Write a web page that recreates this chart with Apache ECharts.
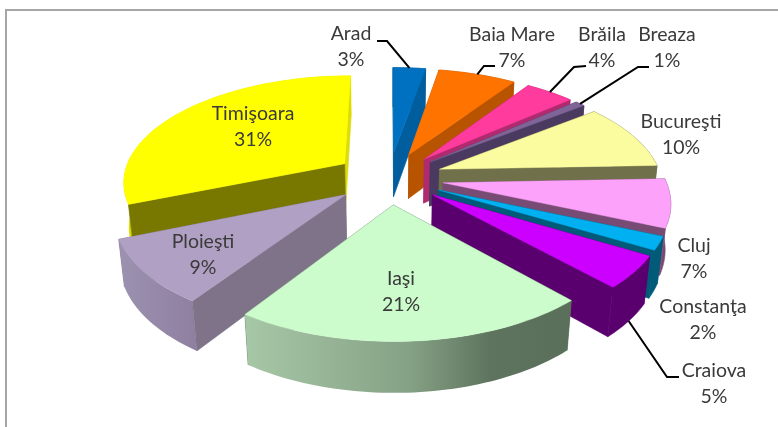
<!DOCTYPE html>
<html><head><meta charset="utf-8">
<style>html,body{margin:0;padding:0;background:#fff}#c{width:778px;height:427px}</style>
<script src="https://cdn.jsdelivr.net/npm/echarts@6/dist/echarts.min.js"></script>
</head><body><div id="c"></div>
<script>
// ---- data ----
const cities = ['Arad','Baia Mare','Brăila','Breaza','Bucureşti','Cluj','Constanţa','Craiova','Iaşi','Ploieşti','Timişoara'];
const shares = [2.8,6.7,4.2,0.85,9.85,7.1,1.95,4.7,21.3,9.4,31.15];

// ---- styles ----
const topColors  = ['#0070C0','#FF7300','#FF3B9D','#7F6497','#FBFBA0','#FCA2FA','#00B0F0','#CC00FF','#CCFBCC','#B0A0C4','#FFFF00'];
const wallColors = ['#005E9E','#B85300','#B02A6F','#4B3A5F','#70704A','#774B74','#005A78','#5A006E','#5F755F','#7F7389','#787800'];
const endWallColors = {10:'#DCDC08'};
const rimStops = {
  8:['#A6C8A6','#97B497','#86A286','#5E745E','#5A6F5A'],
  9:['#9C92B0','#8F7FA0'],
  10:['#DCDC00','#DCDC00']
};
const textColor = '#3A3A3A';

// ---- projection of the exploded, tilted pie ----
const CX=389, CY=178, R=222, EXPLODE=54.5, H=52, SIN=0.477, COS=0.879, D=1255;
function project(x,y,z){
  const w=1+(y*COS-z*SIN)/D;
  return [CX+x/w, CY-(y*SIN+z*COS)/w];
}
const total=shares.reduce((a,b)=>a+b,0);
let acc=0;
const slices=shares.map((v,i)=>{
  const a0=acc/total*2*Math.PI; acc+=v;
  const a1=acc/total*2*Math.PI, mid=(a0+a1)/2;
  return {i,a0,a1,mid,ox:EXPLODE*Math.sin(mid),oy:EXPLODE*Math.cos(mid)};
});
const rim=(s,a,z)=>project(s.ox+R*Math.sin(a),s.oy+R*Math.cos(a),z);
const apex=(s,z)=>project(s.ox,s.oy,z);
function arc(s,z){
  const n=Math.max(3,Math.ceil((s.a1-s.a0)/0.025)),p=[];
  for(let k=0;k<=n;k++)p.push(rim(s,s.a0+(s.a1-s.a0)*k/n,z));
  return p;
}
function poly(points,fill){
  return {type:'polygon',shape:{points},style:{fill,stroke:typeof fill==='string'?fill:null,lineWidth:0.6}};
}
function sliceGroup(s){
  const wall=wallColors[s.i];
  const top=arc(s,0),bot=arc(s,-H);
  const stops=rimStops[s.i];
  const rimFill=stops?{type:'linear',x:0,y:0,x2:1,y2:0,colorStops:stops.map((c,k)=>({offset:k/(stops.length-1),color:c}))}:wall;
  const faces=[
    {d:R*Math.cos(s.mid)*0.6+s.oy,e:poly(top.concat(bot.slice().reverse()),rimFill)},
    {d:s.oy+R*Math.cos(s.a0)/2,e:poly([apex(s,0),rim(s,s.a0,0),rim(s,s.a0,-H),apex(s,-H)],wall)},
    {d:s.oy+R*Math.cos(s.a1)/2,e:poly([apex(s,0),rim(s,s.a1,0),rim(s,s.a1,-H),apex(s,-H)],endWallColors[s.i]||wall)}
  ].sort((a,b)=>b.d-a.d).map(f=>f.e);
  faces.push({type:'polygon',shape:{points:[apex(s,0)].concat(top)},style:{fill:topColors[s.i],stroke:topColors[s.i],lineWidth:0.4}});
  return {type:'group',children:faces};
}
const paintOrder=slices.slice().sort((a,b)=>Math.cos(b.mid)-Math.cos(a.mid)).map(s=>s.i);

// ---- label layout: centre of each two-line label ----
const labelCentres=[[351,47],[512,48],[602,48],[667,48],[681,135],[694,259],[703,320],[714,384],[401,292],[203,255],[253,127]];
// leader elbows: label end, elbow, then the slice point it touches
const leaders={
  0:{pts:[[377,41],[387,41]],z:0,f:0.5},
  1:{pts:[[495,66],[484,66]],z:0,f:0.5},
  2:{pts:[[586,66],[574,67]],z:0,f:0.5},
  3:{pts:[[649,67],[638,67]],z:0,f:0.5},
  7:{pts:[[679,377],[667,377]],z:-H,f:0.5}
};
const FONT='Lato, Carlito, sans-serif';

const option={
  animation:false,
  backgroundColor:'#fff',
  graphic:[{type:'rect',silent:true,z:0,shape:{x:6,y:10,width:820,height:460},style:{fill:'#fff',stroke:'#A6A6A6',lineWidth:2}}],
  series:[
    {type:'custom',coordinateSystem:'none',silent:true,z:2,
     data:paintOrder.map(i=>({name:cities[i],value:[i,shares[i]]})),
     renderItem(params,api){return sliceGroup(slices[api.value(0)]);}},
    {type:'custom',coordinateSystem:'none',silent:true,z:3,
     data:cities.map((n,i)=>({name:n,value:[i,shares[i]]})),
     renderItem(params,api){
       const i=api.value(0),s=slices[i],kids=[];
       const lead=leaders[i];
       if(lead){
         const end=rim(s,s.a0+(s.a1-s.a0)*lead.f,lead.z);
         kids.push({type:'polyline',shape:{points:lead.pts.concat([end])},style:{stroke:'#000',lineWidth:2,fill:null}});
       }
       const c=labelCentres[i];
       kids.push({type:'text',style:{text:cities[i]+'\n'+Math.round(api.value(1)/total*100)+'%',x:c[0],y:c[1],align:'center',verticalAlign:'middle',
         font:'19.5px '+FONT,lineHeight:26,fill:textColor}});
       return {type:'group',children:kids};
     }}
  ]
};
const chart=echarts.init(document.getElementById('c'),null,{renderer:'canvas'});
chart.setOption(option);
</script></body></html>
